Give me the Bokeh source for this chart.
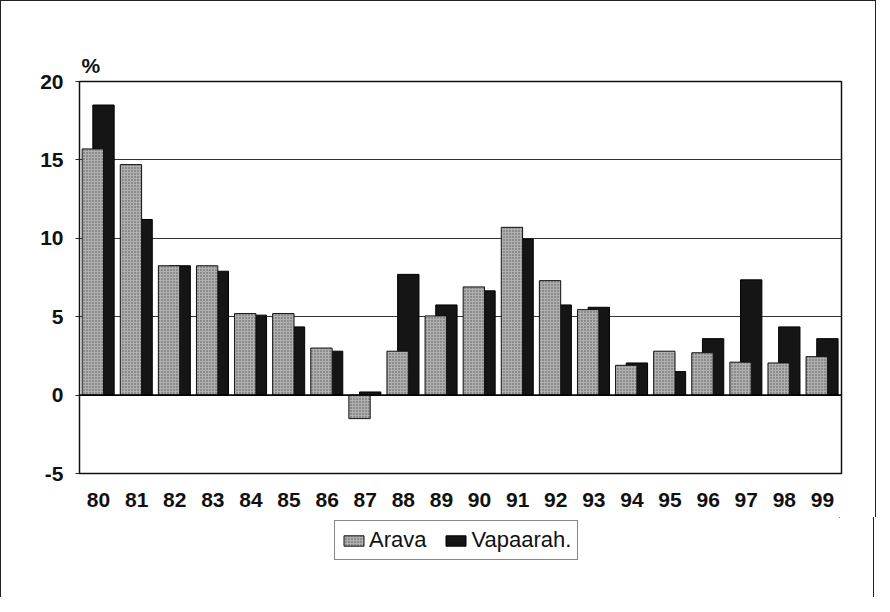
from bokeh.plotting import figure
from bokeh.layouts import column
from bokeh.models import ColumnDataSource, FactorRange, Range1d, Legend, LegendItem, Span, FixedTicker, CustomJSTickFormatter
from bokeh.transform import dodge
from bokeh.embed import file_html
from bokeh.resources import INLINE

years = ["80", "81", "82", "83", "84", "85", "86", "87", "88", "89",
         "90", "91", "92", "93", "94", "95", "96", "97", "98", "99"]
arava = [15.7, 14.7, 8.25, 8.25, 5.2, 5.2, 3.0, -1.5, 2.8, 5.05,
         6.9, 10.7, 7.3, 5.45, 1.9, 2.8, 2.7, 2.1, 2.05, 2.45]
vapaarah = [18.5, 11.2, 8.25, 7.9, 5.1, 4.35, 2.8, 0.2, 7.7, 5.75,
            6.65, 9.95, 5.75, 5.6, 2.05, 1.5, 3.6, 7.35, 4.35, 3.6]
y_ticks = [-5, 0, 5, 10, 15, 20]
unit_label = "%"
series_names = ["Arava", "Vapaarah."]

src = ColumnDataSource(dict(x=years, arava=arava, vap=vapaarah))

TICKFONT = "Liberation Sans"
BORDER = "1.5px solid #222"

ARAVA_STYLE = dict(fill_color="#b0b0b0", line_color="#111", line_width=1,
                   hatch_pattern="dot", hatch_scale=3, hatch_color="#555555", hatch_weight=1)
VAP_STYLE = dict(fill_color="#151515", line_color="#000", line_width=1)

p = figure(frame_width=760, frame_height=391, x_range=FactorRange(*years, range_padding=0),
           y_range=Range1d(-5, 20), output_backend="svg", toolbar_location=None,
           min_border_left=78, min_border_right=36, min_border_top=80, min_border_bottom=45,
           background_fill_color="white", border_fill_color="white",
           styles={"border-left": BORDER, "border-right": BORDER, "border-top": BORDER})

p.outline_line_color = "#111"
p.outline_line_width = 1.5

p.title.text = unit_label
p.title.align = "left"
p.title.offset = 2
p.title.standoff = 10
p.title.text_font = TICKFONT
p.title.text_font_style = "bold"
p.title.text_font_size = "21px"
p.title.text_color = "#111"

p.vbar(x=dodge("x", 0.13, range=p.x_range), top="vap", width=0.56, source=src, **VAP_STYLE)
p.vbar(x=dodge("x", -0.15, range=p.x_range), top="arava", width=0.56, source=src, **ARAVA_STYLE)

p.add_layout(Span(location=0, dimension="width", line_color="#000", line_width=1.5))

p.xgrid.grid_line_color = None
p.ygrid.grid_line_color = "#333"
p.ygrid.grid_line_width = 1
p.yaxis.ticker = FixedTicker(ticks=y_ticks)
p.yaxis.formatter = CustomJSTickFormatter(code="return tick.toString();")
p.yaxis.axis_line_color = None
p.yaxis.major_tick_out = 4
p.yaxis.major_tick_in = 0
p.yaxis.major_tick_line_color = "#222"
p.yaxis.minor_tick_line_color = None
p.yaxis.major_label_standoff = 12
p.xaxis.axis_line_color = None
p.xaxis.major_tick_line_color = None
p.xaxis.minor_tick_line_color = None
p.xaxis.major_label_standoff = 13
for ax in (p.xaxis[0], p.yaxis[0]):
    ax.major_label_text_font = TICKFONT
    ax.major_label_text_font_style = "bold"
    ax.major_label_text_font_size = "21px"
    ax.major_label_text_color = "#111"

# legend panel below the chart (keys only; their bars lie outside the visible range)
leg = figure(width=874, height=80, x_range=Range1d(0, 1), y_range=Range1d(0, 1),
             x_axis_type=None, y_axis_type=None,
             output_backend="svg", toolbar_location=None,
             min_border=0, background_fill_color="white", border_fill_color="white",
             styles={"border-left": BORDER, "border-right": BORDER})
leg.grid.visible = False
leg.outline_line_color = None
key_src = ColumnDataSource(dict(x=[5], top=[5]))
la = leg.vbar(x="x", top="top", bottom=4, width=0.1, source=key_src, **ARAVA_STYLE)
lv = leg.vbar(x="x", top="top", bottom=4, width=0.1, source=key_src, **VAP_STYLE)

legend = Legend(items=[LegendItem(label=series_names[0], renderers=[la]),
                       LegendItem(label=series_names[1], renderers=[lv])],
                orientation="horizontal", location=(255, 37),
                glyph_width=25, glyph_height=13, label_standoff=3, spacing=17,
                padding=6, margin=0, border_line_color="#111", border_line_width=1.5,
                label_text_font="Liberation Sans", label_text_font_size="22px",
                label_text_color="#111", background_fill_color="white")
leg.add_layout(legend, "center")

layout = column(p, leg, spacing=0)
open("out.html", "w").write(file_html(layout, INLINE))
